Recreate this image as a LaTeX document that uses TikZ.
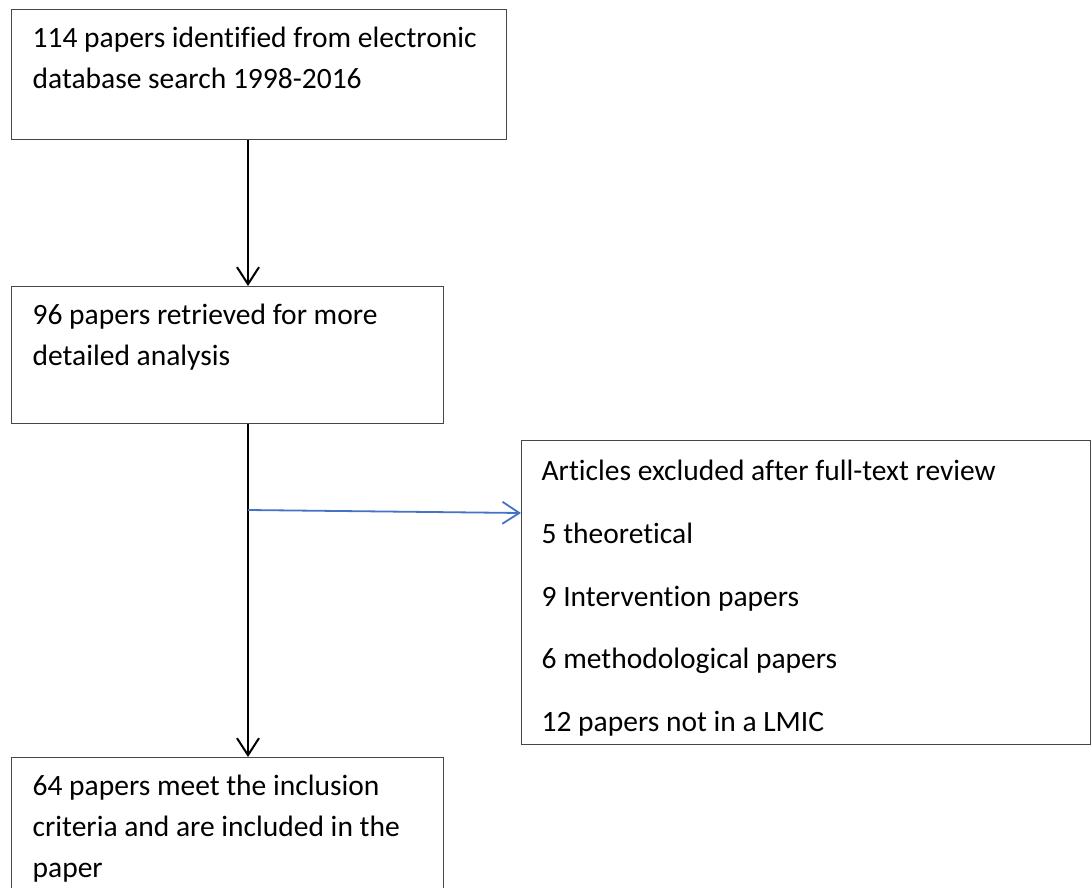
\documentclass[tikz,border=0pt]{standalone}
\usepackage{fontspec}
\setmainfont{Carlito}[Ligatures={CommonOff,ContextualOff,RequiredOff}]
\usepackage{tikz}
\usetikzlibrary{arrows.meta,calc}
\usetikzlibrary{positioning}
\usepackage{xcolor}
\definecolor{linkblue}{RGB}{68,114,196}
\definecolor{edgegray}{RGB}{70,70,70}
\tikzstyle{flow}=[
  x=1pt,y=-1pt,font={\fontsize{29.5}{41}\selectfont}
]
\tikzstyle{stepbox}=[
  draw=edgegray,rectangle,line width=1.3pt,anchor=north west,align=left,
  inner xsep=21pt,inner ysep=0pt,text height=38pt,
  execute at begin node={\spaceskip=0pt\xspaceskip=0pt\relax}
]
\tikzstyle{listbox}=[
  stepbox,inner xsep=20pt,text height=40pt,font={\fontsize{29.5}{62.7}\selectfont}
]
\tikzstyle{mainedge}=[
  line width=2pt,-{Straight Barb[length=17pt,width=22pt,line width=2pt]}
]
\tikzstyle{sideedge}=[
  draw=linkblue,line width=1.8pt,-{Straight Barb[length=17pt,width=22pt,line width=1.8pt]}
]

\begin{document}
\begin{tikzpicture}[flow]
    \useasboundingbox (0,0) rectangle (1092,888);
    \clip (0,0) rectangle (1092,888);
      \node (search) at (11,9) [stepbox,text width=453pt,text depth=92pt]
        {114 papers identified from electronic\\database search 1998-2016};
      \node (retrieved) at (11,286) [stepbox,text width=390pt,text depth=99pt]
        {96 papers retrieved for more\\detailed analysis};
      \node (included) at (11,757) [stepbox,text width=390pt,text depth=160pt]
        {64 papers meet the inclusion\\criteria and are included in the\\paper};
      \node (excluded) at (521,440) [listbox,text width=529pt,text depth=264pt]
        {Articles excluded after full-text review\\5 theoretical\\9 Intervention papers\\6 methodological papers\\12 papers not in a LMIC};
      \coordinate (spine) at (248,0);
      \coordinate (branch) at (248,510);
      \draw [mainedge] (search.south -| spine) -- (retrieved.north -| spine);
      \draw [mainedge] (retrieved.south -| spine) -- (included.north -| spine);
      \draw [sideedge] (branch) -- ($(excluded.north west)+(0,73)$);
    \end{tikzpicture}
\end{document}
